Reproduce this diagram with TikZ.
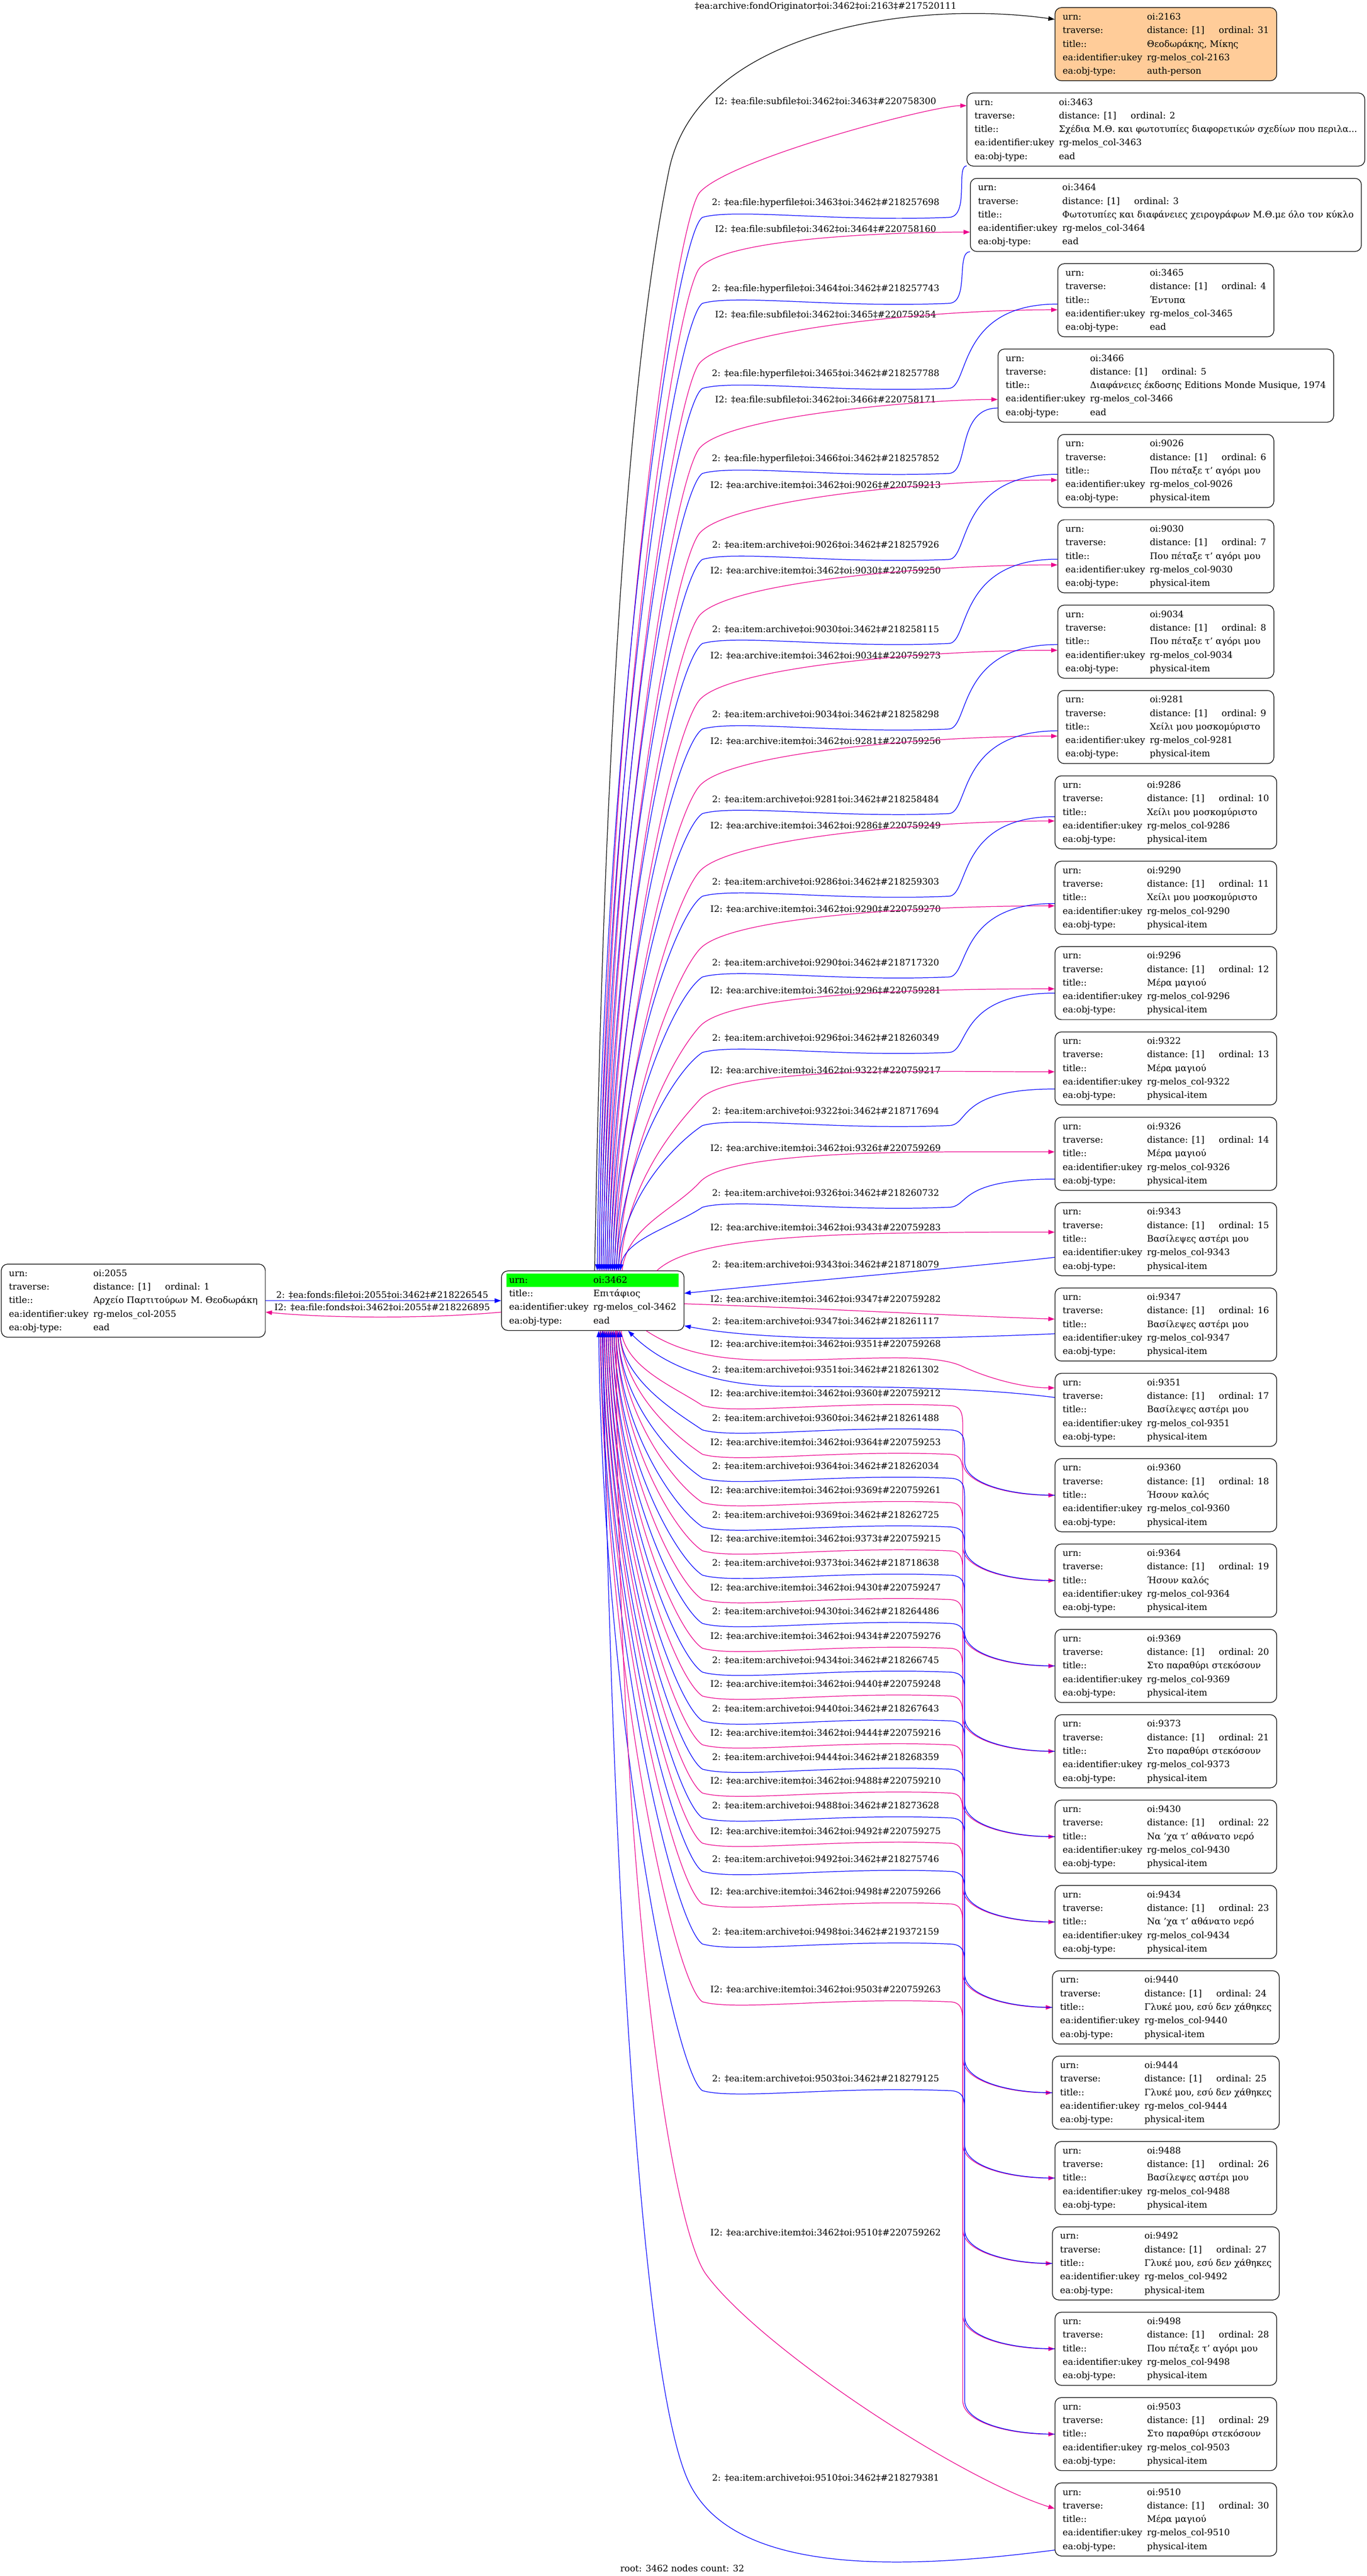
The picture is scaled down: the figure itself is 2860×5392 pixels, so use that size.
\documentclass[tikz,border=0pt]{standalone}
\usepackage{fontspec}
\setmainfont{DejaVu Serif}
\usepackage{colortbl}
\usetikzlibrary{arrows.meta}
\definecolor{peach}{HTML}{FFCC99}
\renewcommand{\arraystretch}{1.25}
\setlength{\tabcolsep}{3.75pt}
\begin{document}
\begin{tikzpicture}[x=0.75pt, y=-0.75pt, >={Triangle[length=10pt,width=7pt]},
    rec/.style={draw, line width=1pt, rounded corners=10pt, inner xsep=8.25pt, inner ysep=4.25pt, font=\fontsize{14}{17}\selectfont},
    lbl/.style={font=\fontsize{14}{17}\selectfont, inner sep=0pt},
    toitem/.style={magenta, line width=1pt, ->},
    fromitem/.style={blue, line width=1pt, <-}]
  \useasboundingbox (0,0) rectangle (2860,5392);

  % root and fonds
  \node[rec] (c) at (1240.5,2722.5) {\begin{tabular}{ll}
      \cellcolor{green}urn: & \cellcolor{green}oi:3462\\
      title:: & Επιτάφιος\\
      ea:identifier:ukey & rg-melos\_col-3462\\
      ea:obj-type: & ead
    \end{tabular}};
  \node[rec] (n2055) at (279,2722.5) {\begin{tabular}{ll}
      urn: & oi:2055\\
      traverse: & distance: [1]\hspace{22.5pt}ordinal: 1\hspace{9pt}\\
      title:: & Αρχείο Παρτιτούρων Μ. Θεοδωράκη\\
      ea:identifier:ukey & rg-melos\_col-2055\\
      ea:obj-type: & ead
    \end{tabular}};
  \node[rec, fill=peach] (n2163) at (2440,92.5) {\begin{tabular}{ll}
      urn: & oi:2163\\
      traverse: & distance: [1]\hspace{22.5pt}ordinal: 31\hspace{9pt}\\
      title:: & Θεοδωράκης, Μίκης\\
      ea:identifier:ukey & rg-melos\_col-2163\\
      ea:obj-type: & auth-person
    \end{tabular}};

  % items
  \foreach \k/\oi/\ttl/\typ in {
      1/3463/Σχέδια Μ.Θ. και φωτοτυπίες διαφορετικών σχεδίων που περιλα.{}.{}./ead,
      2/3464/Φωτοτυπίες και διαφάνειες χειρογράφων Μ.Θ.με όλο τον κύκλο/ead,
      3/3465/Έντυπα/ead,
      4/3466/Διαφάνειες έκδοσης Editions Monde Musique{,} 1974/ead,
      5/9026/Που πέταξε τ’ αγόρι μου/physical-item,
      6/9030/Που πέταξε τ’ αγόρι μου/physical-item,
      7/9034/Που πέταξε τ’ αγόρι μου/physical-item,
      8/9281/Χείλι μου μοσκομύριστο/physical-item,
      9/9286/Χείλι μου μοσκομύριστο/physical-item,
      10/9290/Χείλι μου μοσκομύριστο/physical-item,
      11/9296/Μέρα μαγιού/physical-item,
      12/9322/Μέρα μαγιού/physical-item,
      13/9326/Μέρα μαγιού/physical-item,
      14/9343/Βασίλεψες αστέρι μου/physical-item,
      15/9347/Βασίλεψες αστέρι μου/physical-item,
      16/9351/Βασίλεψες αστέρι μου/physical-item,
      17/9360/Ήσουν καλός/physical-item,
      18/9364/Ήσουν καλός/physical-item,
      19/9369/Στο παραθύρι στεκόσουν/physical-item,
      20/9373/Στο παραθύρι στεκόσουν/physical-item,
      21/9430/Να 'χα τ’ αθάνατο νερό/physical-item,
      22/9434/Να 'χα τ’ αθάνατο νερό/physical-item,
      23/9440/Γλυκέ μου{,} εσύ δεν χάθηκες/physical-item,
      24/9444/Γλυκέ μου{,} εσύ δεν χάθηκες/physical-item,
      25/9488/Βασίλεψες αστέρι μου/physical-item,
      26/9492/Γλυκέ μου{,} εσύ δεν χάθηκες/physical-item,
      27/9498/Που πέταξε τ’ αγόρι μου/physical-item,
      28/9503/Στο παραθύρι στεκόσουν/physical-item,
      29/9510/Μέρα μαγιού/physical-item}{
    \pgfmathtruncatemacro\ord{\k+1}
    \node[rec] (n\oi) at (2440,{92.5+178.66*\k}) {\begin{tabular}{ll}
        urn: & oi:\oi\\
        traverse: & distance: [1]\hspace{22.5pt}ordinal: \ord\hspace{9pt}\\
        title:: & \ttl\\
        ea:identifier:ukey & rg-melos\_col-\oi\\
        ea:obj-type: & \typ
      \end{tabular}};
  }

  % fonds edges
  \node[lbl] (lf1) at (800,2711) {2: ‡ea:fonds:file‡oi:2055‡oi:3462‡\#218226545};
  \node[lbl] (lf2) at (800,2737) {I2: ‡ea:file:fonds‡oi:3462‡oi:2055‡\#218226895};
  \draw[blue, line width=1pt, ->] (n2055.east) -- (c.west);
  \draw[toitem] ([yshift=-18pt]c.west) .. controls (900,2760) and (700,2760) .. ([yshift=-18pt]n2055.east);

  % originator
  \node[lbl] (lo) at (1728,14) {‡ea:archive:fondOriginator‡oi:3462‡oi:2163‡\#217520111};
  \draw[line width=1pt, ->] ([xshift=3pt]c.north) .. controls (1265,1500) and (1320,750) .. (1400,357) .. controls (1460,60) and (1920,0) .. ([yshift=39pt]n2163.west);

  % upper items
  \foreach \k/\oi/\la/\lb/\ia/\ib/\ma/\ba/\da in {
      1/3463/212/425/220758300/218257698/-50/76/190,
      2/3464/480/605/220758160/218257743/36/77/80,
      3/3465/659/783/220759254/218257788/20/8/100,
      4/3466/837/961/220758171/218257852/29/47/100,
      5/9026/1016/1141/220759213/218257926/19/7/99,
      6/9030/1195/1317/220759250/218258115/18/6/92,
      7/9034/1372/1496/220759273/218258298/18/6/92,
      8/9281/1552/1673/220759256/218258484/19/8/92,
      9/9286/1728/1846/220759249/218259303/18/9/95,
      10/9290/1903/2015/220759270/218717320/17/12/83,
      11/9296/2074/2173/220759281/218260349/12/21/74,
      12/9322/2241/2326/220759217/218717694/7/43/60,
      13/9326/2404/2497/220759269/218260732/-4/53/70}{
    \ifnum\k<5 \def\ra{ea:file:subfile}\def\rb{ea:file:hyperfile}\else\def\ra{ea:archive:item}\def\rb{ea:item:archive}\fi
    \node[lbl] (ia\oi) at (1728,\la) {I2: ‡\ra‡oi:3462‡oi:\oi‡\#\ia};
    \node[lbl] (ib\oi) at (1728,\lb) {2: ‡\rb‡oi:\oi‡oi:3462‡\#\ib};
    \pgfmathsetmacro\yc{92.5+178.66*\k}
    \pgfmathsetmacro\sx{1250+4*\k}
    \pgfmathsetmacro\xs{0.75*(\sx-1240.5)}
    \pgfmathsetmacro\ya{\la+\da}
    \pgfmathsetmacro\ymid{(2660+\ya)/2}
    \pgfmathsetmacro\ys{-0.75*\ma}
    \pgfmathsetmacro\ey{\yc+\ma}
    \draw[toitem] ([xshift=\xs pt]c.north) .. controls ({\sx+10},{\ymid}) and (1410,{\ya+60}) .. (1465,\ya) .. controls (1530,{\ya-70}) and (1950,\ey) .. ([yshift=\ys pt]n\oi.west);
    \pgfmathsetmacro\sxb{1246+4*\k}
    \pgfmathsetmacro\xsb{0.75*(\sxb-1240.5)}
    \pgfmathsetmacro\yb{\lb+30}
    \pgfmathsetmacro\ymidb{(2660+\yb)/2}
    \pgfmathsetmacro\ysb{-0.75*\ba}
    \pgfmathsetmacro\eyb{\yc+\ba}
    \draw[fromitem] ([xshift=\xsb pt]c.north) .. controls ({\sxb+10},{\ymidb}) and (1410,{\yb+40}) .. (1470,\yb) .. controls (1540,{\yb-20}) and (1750,{\yb+10}) .. (1985,\yb) .. controls (2030,\yb) and (2000,\eyb) .. ([yshift=\ysb pt]n\oi.west);
  }

  % items beside the root
  \node[lbl] (ia9343) at (1728,2569) {I2: ‡ea:archive:item‡oi:3462‡oi:9343‡\#220759283};
  \node[lbl] (ib9343) at (1728,2647) {2: ‡ea:item:archive‡oi:9343‡oi:3462‡\#218718079};
  \node[lbl] (ia9347) at (1728,2719) {I2: ‡ea:archive:item‡oi:3462‡oi:9347‡\#220759282};
  \node[lbl] (ib9347) at (1728,2766) {2: ‡ea:item:archive‡oi:9347‡oi:3462‡\#218261117};
  \node[lbl] (ia9351) at (1728,2813) {I2: ‡ea:archive:item‡oi:3462‡oi:9351‡\#220759268};
  \node[lbl] (ib9351) at (1728,2867) {2: ‡ea:item:archive‡oi:9351‡oi:3462‡\#218261302};
  \draw[toitem] ([xshift=-43pt]c.north east) .. controls (1450,2590) and (1700,2578) .. ([yshift=11pt]n9343.west);
  \draw[fromitem] ([yshift=11.6pt]c.east) .. controls (1700,2680) and (2050,2650) .. ([yshift=-28.5pt]n9343.west);
  \draw[toitem] ([yshift=-4.9pt]c.east) .. controls (1700,2738) and (1950,2752) .. ([yshift=8.5pt]n9347.west);
  \draw[fromitem] ([yshift=-39.4pt]c.east) .. controls (1600,2808) and (1900,2805) .. ([yshift=-14.5pt]n9347.west);
  \draw[toitem] ([xshift=84pt]c.south) .. controls (1420,2830) and (1500,2847) .. (1616,2847) .. controls (1800,2847) and (1950,2830) .. (2014,2860) .. controls (2080,2890) and (2150,2905) .. ([yshift=34.5pt]n9351.west);
  \draw[fromitem] ([xshift=55.5pt]c.south) .. controls (1380,2850) and (1480,2902) .. (1650,2902) .. controls (1850,2902) and (2050,2905) .. ([yshift=19.5pt]n9351.west);

  % lower items
  \foreach \k/\oi/\la/\lb/\ia/\ib in {
      17/9360/2917/2968/220759212/218261488,
      18/9364/3019/3069/220759253/218262034,
      19/9369/3120/3171/220759261/218262725,
      20/9373/3221/3272/220759215/218718638,
      21/9430/3323/3373/220759247/218264486,
      22/9434/3425/3475/220759276/218266745,
      23/9440/3525/3577/220759248/218267643,
      24/9444/3627/3678/220759216/218268359,
      25/9488/3728/3780/220759210/218273628,
      26/9492/3833/3892/220759275/218275746,
      27/9498/3960/4044/220759266/219372159,
      28/9503/4165/4351/220759263/218279125}{
    \node[lbl] (ia\oi) at (1728,\la) {I2: ‡ea:archive:item‡oi:3462‡oi:\oi‡\#\ia};
    \node[lbl] (ib\oi) at (1728,\lb) {2: ‡ea:item:archive‡oi:\oi‡oi:3462‡\#\ib};
    \pgfmathsetmacro\yc{92.5+178.66*\k}
    \pgfmathsetmacro\sx{1300-4*(\k-17)}
    \pgfmathsetmacro\xs{0.75*(\sx-1240.5)}
    \pgfmathsetmacro\ya{\la+25}
    \pgfmathsetmacro\ymid{(2785+\ya)/2}
    \draw[toitem] ([xshift=\xs pt]c.south) .. controls ({\sx+10},{\ymid}) and (1410,{\ya-40}) .. (1470,\ya) .. controls (1540,{\ya+20}) and (1750,{\ya-10}) .. (1985,\ya) .. controls (2012,\ya) and (2015,{\ya+15}) .. (2015,{\ya+45}) -- (2015,{\yc-70}) .. controls (2015,{\yc-25}) and (2110,\yc) .. (n\oi.west);
    \pgfmathsetmacro\sxb{\sx-3}
    \pgfmathsetmacro\xsb{0.75*(\sxb-1240.5)}
    \pgfmathsetmacro\yb{\lb+25}
    \pgfmathsetmacro\ymidb{(2785+\yb)/2}
    \draw[fromitem] ([xshift=\xsb pt]c.south) .. controls ({\sxb+10},{\ymidb}) and (1410,{\yb-40}) .. (1470,\yb) .. controls (1540,{\yb+20}) and (1750,{\yb-10}) .. (1985,\yb) .. controls (2016,\yb) and (2019,{\yb+15}) .. (2019,{\yb+45}) -- (2019,{\yc-70}) .. controls (2019,{\yc-25}) and (2110,\yc) .. (n\oi.west);
  }

  % last item
  \node[lbl] (ia9510) at (1728,4673) {I2: ‡ea:archive:item‡oi:3462‡oi:9510‡\#220759262};
  \node[lbl] (ib9510) at (1728,5187) {2: ‡ea:item:archive‡oi:9510‡oi:3462‡\#218279381};
  \draw[toitem] ([xshift=37pt]c.south) .. controls (1290,3900) and (1400,4655) .. (1478,4761) .. controls (1588,4911) and (2000,5185) .. ([yshift=17pt]n9510.west);
  \draw[fromitem] ([xshift=16pt]c.south) .. controls (1275,3700) and (1330,4950) .. (1440,5192) .. controls (1530,5390) and (1880,5380) .. ([yshift=-48pt]n9510.west);

  \node[lbl] (root) at (1428,5376) {root: 3462 nodes count: 32};
\end{tikzpicture}
\end{document}
